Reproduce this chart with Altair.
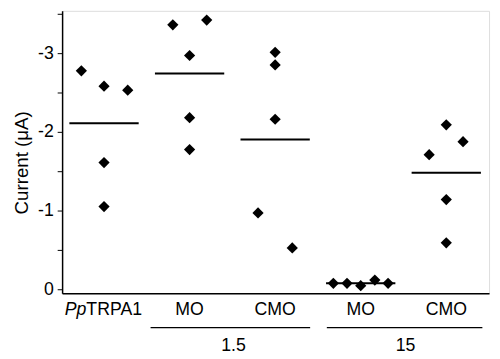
import altair as alt
import pandas as pd

# ---- data ----
groups = ["PpTRPA1", "MO", "CMO", "MO", "CMO"]
group_pos = [1, 2, 3, 4, 5]

# point values (µA) and within-group horizontal offsets
vals = [
    [-2.775, -2.58, -2.53, -1.61, -1.05],
    [-3.36, -3.42, -2.97, -2.18, -1.775],
    [-3.01, -2.85, -2.16, -0.97, -0.525],
    [-0.075, -0.075, -0.046, -0.116, -0.075],
    [-1.71, -2.09, -1.875, -1.14, -0.59],
]
offs = [
    [-0.265, 0.0, 0.277, 0.0, 0.0],
    [-0.196, 0.2, 0.0, 0.0, 0.0],
    [0.0, 0.0, 0.0, -0.2, 0.2],
    [-0.32, -0.16, 0.0, 0.165, 0.32],
    [-0.2, 0.0, 0.196, 0.0, 0.0],
]

dose_labels = ["1.5", "15"]
dose_label_pos = [2.513, 4.525]
dose_span_start = [1.544, 3.604]
dose_span_end = [3.409, 5.422]

y_ticks = [0, -0.5, -1, -1.5, -2, -2.5, -3, -3.5]

rows = []
for g, vs, os_ in zip(group_pos, vals, offs):
    for v, o in zip(vs, os_):
        rows.append({"g": g, "x": g + o, "v": v})
pts = pd.DataFrame(rows)

W, H = 434, 287
FONT = "Liberation Sans"
xs = alt.Scale(domain=[0.51, 5.5], nice=False, zero=False)
ys = alt.Scale(domain=[0.05, -3.5375], nice=False, zero=False)

base = alt.Chart(pts)

points = base.mark_point(shape="diamond", filled=True, size=130, color="black", opacity=1).encode(
    x=alt.X("x:Q", scale=xs,
            axis=alt.Axis(labels=False, ticks=False, title=None, grid=False,
                          domainColor="black", domainWidth=1.5)),
    y=alt.Y("v:Q", scale=ys,
            axis=alt.Axis(values=y_ticks, grid=False, tickSize=5, tickColor="black",
                          tickWidth=1, domainColor="black", domainWidth=1.5,
                          labelExpr="datum.value % 1 === 0 ? toString(datum.value) : ''",
                          labelFont=FONT, labelFontSize=18, labelColor="black",
                          labelPadding=4,
                          title="Current (μA)", titleFont=FONT, titleFontSize=19,
                          titleFontWeight="normal", titleColor="black",
                          titleX=-41, titleY=154, titleBaseline="middle",
                          titleAngle=-90)),
)

means = base.transform_aggregate(m="mean(v)", groupby=["g"]).transform_calculate(
    x1="datum.g - 0.405", x2="datum.g + 0.405"
).mark_rule(color="black", strokeWidth=2).encode(
    x=alt.X("x1:Q", scale=xs), x2="x2:Q", y=alt.Y("m:Q", scale=ys)
)

lab_df = pd.DataFrame({"g": group_pos, "t": groups})
labels = alt.Chart(lab_df).transform_filter("datum.g > 1").mark_text(
    font=FONT, fontSize=18, color="black", baseline="middle", align="center"
).encode(x=alt.X("g:Q", scale=xs), y=alt.value(304), text="t:N")

pp = alt.Chart(lab_df).transform_filter("datum.g == 1").mark_text(
    font=FONT, fontSize=18, fontStyle="italic", color="black", baseline="middle",
    align="right", dx=-18
).encode(x=alt.X("g:Q", scale=xs), y=alt.value(304), text=alt.value("Pp"))

trpa = alt.Chart(lab_df).transform_filter("datum.g == 1").mark_text(
    font=FONT, fontSize=18, color="black", baseline="middle", align="left", dx=-18
).encode(x=alt.X("g:Q", scale=xs), y=alt.value(304), text=alt.value("TRPA1"))

dose_df = pd.DataFrame({"t": dose_labels, "p": dose_label_pos,
                        "s": dose_span_start, "e": dose_span_end})
spans = alt.Chart(dose_df).mark_rule(color="black", strokeWidth=1.5).encode(
    x=alt.X("s:Q", scale=xs), x2="e:Q", y=alt.value(322)
)
dose_text = alt.Chart(dose_df).mark_text(
    font=FONT, fontSize=18, color="black", baseline="middle", align="center"
).encode(x=alt.X("p:Q", scale=xs), y=alt.value(341), text="t:N")

chart = alt.layer(means, points, labels, pp, trpa, spans, dose_text).properties(
    width=W, height=H,
    autosize=alt.AutoSizeParams(type="none"),
    padding={"left": 55, "right": 3, "top": 0, "bottom": 64},
).configure_view(stroke=None).configure(background="white")

chart.save("out.html", embed_options={"renderer": "svg", "actions": False})
